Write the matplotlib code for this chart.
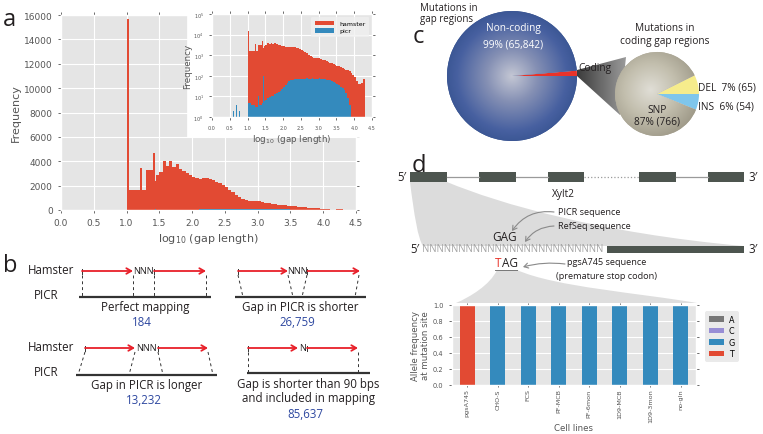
import numpy as np
import matplotlib.pyplot as plt
from matplotlib.colors import LinearSegmentedColormap
from matplotlib.patches import Rectangle, Polygon, PathPatch
from matplotlib.path import Path

plt.style.use('ggplot')

W, H = 763, 435
ANNOT = ['Open Sans', 'DejaVu Sans']
RED, BLUE = '#E24A33', '#348ABD'

# ---- panel a: gap length histograms (log10 gap length) ----
bin_w = 0.05
hamster_start = 1.0
hamster_counts = [1650, 1620, 1660, 1620, 1650, 1680, 3250, 3280, 2350, 2850,
                  3150, 4000, 3600, 4000, 3550, 3780, 3350, 3170, 3000, 2850,
                  2700, 2600, 2550, 2600, 2620, 2540, 2430, 2330, 2200, 2050,
                  1850, 1650, 1440, 1250, 1060, 900, 780, 740, 720, 750,
                  700, 650, 610, 580, 520, 480, 440, 400, 370, 340,
                  310, 290, 260, 240, 220, 200, 185, 165, 140, 110,
                  90, 55, 40, 40, 45, 70]
hamster_spike_x = [1.00, 1.20, 1.41]
hamster_spike_counts = [15700, 3450, 4690]

picr_start = 1.0
picr_counts = [5, 5, 4, 4, 3, 3, 4, 4, 5, 6,
               7, 8, 9, 10, 11, 13, 15, 17, 19, 24,
               30, 37, 46, 55, 62, 66, 70, 71, 69, 72,
               70, 73, 71, 74, 70, 72, 75, 71, 73, 70,
               74, 72, 70, 68, 66, 63, 60, 55, 50, 45,
               40, 35, 30, 25, 20, 14, 8, 4, 1]
picr_extra_x = [0.0, 0.60, 0.67, 0.76, 0.83, 1.00, 1.20, 1.30, 1.43]
picr_extra_counts = [180, 2, 4, 2, 4, 37, 13, 11, 100]

# ---- panel b: mapping categories ----
mapping_labels = ['Perfect mapping', 'Gap in PICR is shorter',
                  'Gap in PICR is longer',
                  'Gap is shorter than 90 bps\nand included in mapping']
mapping_counts = ['184', '26,759', '13,232', '85,637']

# ---- panel c: mutations ----
gap_labels = ['Coding', 'Non-coding']
coding_labels = ['INS', 'DEL', 'SNP']
coding_counts = [54, 65, 766]
noncoding_count = 65842

# ---- panel d: allele frequencies ----
cell_lines = ['pgsA745', 'CHO-S', 'FCS', 'PF-MCB', 'PF-6mon', '1D9-MCB', '1D9-3mon', 'no-gln']
freq_A = [0, 0, 0, 0, 0, 0, 0, 0]
freq_C = [0, 0, 0, 0, 0, 0, 0, 0]
freq_G = [0, 1, 1, 1, 1, 1, 1, 1]
freq_T = [1, 0, 0, 0, 0, 0, 0, 0]


def rect(l, t, w, h):
    return [l / W, 1 - (t + h) / H, w / W, h / H]


def style_ax(a, size):
    a.tick_params(labelsize=size, colors='#555555', length=2.5, width=0.6,
                  top=True, right=True, labeltop=False, labelright=False)


fig = plt.figure(figsize=(W / 100, H / 100), dpi=100)

# ================= panel a =================
ham_x = hamster_start + bin_w * np.arange(len(hamster_counts))
picr_x = picr_start + bin_w * np.arange(len(picr_counts))

ax = fig.add_axes(rect(61, 16, 295, 195))
ax.bar(ham_x, hamster_counts, bin_w, align='edge', color=RED, lw=0)
ax.bar(hamster_spike_x, hamster_spike_counts, 0.03, align='edge', color=RED, lw=0)
ax.bar(picr_x, picr_counts, bin_w, align='edge', color=BLUE, lw=0)
ax.bar(picr_extra_x, picr_extra_counts, 0.02, align='edge', color=BLUE, lw=0)
ax.set_xlim(0, 4.5)
ax.set_ylim(0, 16000)
ax.set_xticks(np.arange(0, 4.51, 0.5))
ax.set_yticks(np.arange(0, 16001, 2000))
style_ax(ax, 6.5)
ax.set_ylabel('Frequency', fontsize=8, color='#555555', labelpad=2)
ax.set_xlabel('log$_{10}$ (gap length)', fontsize=8, color='#555555', labelpad=3)

# white area behind the inset
fig.patches.append(Rectangle((187 / W, 1 - 138 / H), (362 - 187) / W, 138 / H,
                             transform=fig.transFigure, color='white', zorder=1))

axi = fig.add_axes(rect(212, 15, 160, 103), zorder=2)
axi.set_yscale('log')
axi.bar(ham_x, hamster_counts, bin_w, align='edge', color=RED, lw=0, label='hamster')
axi.bar(hamster_spike_x, hamster_spike_counts, 0.03, align='edge', color=RED, lw=0)
axi.bar(picr_x, picr_counts, bin_w, align='edge', color=BLUE, lw=0, label='picr')
axi.bar(picr_extra_x, picr_extra_counts, 0.02, align='edge', color=BLUE, lw=0)
axi.set_xlim(0, 4.5)
axi.set_ylim(1, 1e5)
axi.set_xticks(np.arange(0, 4.51, 0.5))
axi.minorticks_off()
style_ax(axi, 3.5)
axi.set_ylabel('Frequency', fontsize=6.3, color='#555555', labelpad=1)
axi.set_xlabel('log$_{10}$ (gap length)', fontsize=6.3, color='#555555', labelpad=1)
leg = axi.legend(loc='upper right', fontsize=4.5, frameon=True, handlelength=3,
                 borderpad=0.6, labelspacing=0.3)
leg.get_frame().set_facecolor('#f0f0f0')
leg.get_frame().set_edgecolor('none')

# ================= overlays in pixel coordinates =================
back = fig.add_axes([0, 0, 1, 1], zorder=0.5)
front = fig.add_axes([0, 0, 1, 1], zorder=5)
for o in (back, front):
    o.set_xlim(0, W)
    o.set_ylim(H, 0)
    o.axis('off')


def txt(x, y, s, size=8, **kw):
    kw.setdefault('ha', 'center')
    kw.setdefault('va', 'center')
    kw.setdefault('family', ANNOT)
    kw.setdefault('color', '#231f20')
    front.text(x, y, s, fontsize=size, **kw)


# panel letters
txt(9, 20, 'a', 17)
txt(10, 266, 'b', 17)
txt(418, 37, 'c', 17)
txt(419, 166, 'd', 17)

# ================= panel b =================
ARROW_RED = '#e8202a'
DARK = '#333333'


def red_arrow(x0, x1, y):
    front.annotate('', xy=(x1, y), xytext=(x0, y),
                   arrowprops=dict(arrowstyle='->,head_length=0.35,head_width=0.2',
                                   color=ARROW_RED, lw=1.3, shrinkA=0, shrinkB=0))
    front.plot([x0, x0], [y - 2, y + 3], color=DARK, lw=0.7)


def mapping_diagram(arrows, gap_text, top_x, bottom_x, line, y_h, y_p, k, lab_y):
    red_arrow(arrows[0][0], arrows[0][1], y_h)
    red_arrow(arrows[1][0], arrows[1][1], y_h)
    txt((arrows[0][1] + arrows[1][0]) / 2, y_h - 0.5, gap_text, 6.6)
    for xt, xb in zip(top_x, bottom_x):
        front.plot([xt, xb], [y_h + 4, y_p], color=DARK, lw=0.7, ls=(0, (3, 3)))
    front.plot(line, [y_p, y_p], color=DARK, lw=1.6, solid_capstyle='butt')
    n_lines = mapping_labels[k].count('\n') + 1
    txt(np.mean(line), lab_y, mapping_labels[k], 8.3, va='top', linespacing=1.15)
    txt(np.mean(line) - 3, lab_y + 14.5 * n_lines + 1, mapping_counts[k], 8.3,
        va='top', color='#2e48a0')


for y_h, y_p in [(271, 296), (348, 373)]:
    txt(28, y_h, 'Hamster', 8.3, ha='left')
    txt(34, y_p, 'PICR', 8.3, ha='left')

mapping_diagram([(82, 133), (154, 206)], 'NNN', [82, 133, 154, 206], [82, 133, 154, 206],
                [79, 211], 272, 298, 0, 301)
mapping_diagram([(238, 288), (307, 360)], 'NNN', [238, 288, 307, 359], [243, 293, 302, 355],
                [235, 366], 272, 298, 1, 301)
mapping_diagram([(85, 135), (158, 208)], 'NNN', [85, 135, 158, 208], [78, 129, 163, 213],
                [76, 217], 349, 376, 2, 379)
mapping_diagram([(248, 298), (307, 358)], 'N', [248, 358], [248, 358],
                [247, 370], 349, 374, 3, 378)

# ================= panel c =================
coding_total = sum(coding_counts)
gap_counts = [coding_total, noncoding_count]

axc1 = fig.add_axes(rect(447, 12, 130, 130), zorder=1.5)
w1, _ = axc1.pie(gap_counts, colors=['#e8332a', '#3a5590'], startangle=0,
                 wedgeprops=dict(linewidth=0))
axc2 = fig.add_axes(rect(615, 53, 84, 84), zorder=1.5)
w2, _ = axc2.pie(coding_counts, colors=['#7fc6ec', '#f6ec8c', '#b2ad9d'],
                 startangle=-360 * coding_counts[0] / coding_total,
                 wedgeprops=dict(linewidth=0))


def radial_fill(a, patch, stops, center=(0, 0)):
    yy, xx = np.mgrid[-1:1:300j, -1:1:300j]
    r = np.hypot(xx - center[0], yy - center[1])
    r = np.clip(r / r.max() * 1.25, 0, 1)
    cmap = LinearSegmentedColormap.from_list('g', stops)
    im = a.imshow(r, extent=[-1, 1, -1, 1], origin='lower', cmap=cmap,
                  vmin=0, vmax=1, zorder=patch.get_zorder() + 0.1, interpolation='bilinear')
    im.set_clip_path(patch)


radial_fill(axc1, w1[1], [(0, '#c4c7d4'), (0.35, '#8590b4'), (0.75, '#4760a0'), (1, '#33508c')])
radial_fill(axc2, w2[2], [(0, '#e0ded6'), (0.5, '#c2bead'), (1, '#9a9584')], center=(-0.15, 0.1))
for a in (axc1, axc2):
    a.set_xlim(-1, 1)
    a.set_ylim(-1, 1)
    a.set_aspect('equal')
    a.axis('off')

# dark funnel between the two pies
funnel = Polygon([(577, 71), (626, 58), (620, 116), (577, 77)], closed=True,
                 facecolor='none', edgecolor='none')
back.add_patch(funnel)
g = back.imshow(np.linspace(0, 1, 100).reshape(1, -1), extent=[577, 626, 120, 55],
                cmap=LinearSegmentedColormap.from_list('f', ['#3c3c3c', '#9a9a9a']),
                aspect='auto', zorder=1)
g.set_clip_path(funnel)
back.set_xlim(0, W)
back.set_ylim(H, 0)

pct = lambda v, t: '%d%%' % round(100 * v / t)
gap_total = sum(gap_counts)
txt(420, 14, 'Mutations in\ngap regions', 7, ha='left', va='center', linespacing=1.05)
txt(513, 29, gap_labels[1], 7.3, color='white')
txt(513, 45, '%s (%s)' % (pct(noncoding_count, gap_total), format(noncoding_count, ',')), 7.3,
    color='white')
txt(578, 68, gap_labels[0], 7.3, ha='left')
txt(665, 35, 'Mutations in\ncoding gap regions', 7.3, linespacing=1.25)
txt(698, 88, '%s  %s (%d)' % (coding_labels[1], pct(coding_counts[1], coding_total), coding_counts[1]),
    7.3, ha='left')
txt(698, 107, '%s  %s (%d)' % (coding_labels[0], pct(coding_counts[0], coding_total), coding_counts[0]),
    7.3, ha='left')
txt(657, 116, '%s\n%s (%d)' % (coding_labels[2], pct(coding_counts[2], coding_total), coding_counts[2]),
    7.3, linespacing=1.0)

# ================= panel d: gene model =================
EXON = '#4d554f'
for x0, x1 in [(410, 447), (479, 516), (548, 584), (639, 676), (708, 744)]:
    front.add_patch(Rectangle((x0, 173), x1 - x0, 10, color=EXON, lw=0))
for x0, x1, ls in [(447, 479, '-'), (516, 548, '-'), (584, 639, ':'), (676, 708, '-')]:
    front.plot([x0, x1], [178, 178], color='#9a9a9a', lw=0.9, ls=ls)
txt(406, 178, '5\u2032', 8.3, ha='right')
txt(748, 178, '3\u2032', 8.3, ha='left')
txt(563, 195, 'Xylt2', 7.3)

P = Path
v1 = [(410, 183), (414, 215), (418, 240), (423, 247), (743, 247),
      (600, 234), (500, 205), (447, 183), (410, 183)]
c1 = [P.MOVETO, P.CURVE4, P.CURVE4, P.CURVE4, P.LINETO, P.CURVE4, P.CURVE4, P.CURVE4, P.CLOSEPOLY]
back.add_patch(PathPatch(Path(v1, c1), facecolor='#dcdcdc', edgecolor='none'))
v2 = [(497, 271), (490, 286), (470, 298), (456, 304), (697, 304),
      (640, 294), (555, 288), (517, 271), (497, 271)]
back.add_patch(PathPatch(Path(v2, c1), facecolor='#dedede', edgecolor='none'))

txt(419, 250, '5\u2032', 8.3, ha='right')
txt(422, 250, 'N' * 25, 6.95, ha='left', color='#a3a3a3')
front.add_patch(Rectangle((607, 246.5), 137, 7, color=EXON, lw=0))
txt(748, 250, '3\u2032', 8.3, ha='left')

txt(505, 238, 'GAG', 8.5)
txt(495, 264, 'T', 8.5, ha='left', color='#e8332a')
txt(502, 264, 'AG', 8.5, ha='left')
front.plot([495, 517], [270.5, 270.5], color='#777777', lw=0.7)

txt(558, 213, 'PICR sequence', 6.6, ha='left')
txt(558, 227, 'RefSeq sequence', 6.6, ha='left')
txt(607, 263, 'pgsA745 sequence', 6.6)
txt(607, 277, '(premature stop codon)', 6.6)
for (x0, y0), (x1, y1), rad in [((554, 213), (512, 232), 0.3), ((554, 227), (525, 243), 0.25),
                                ((565, 265), (523, 268), 0.1)]:
    front.annotate('', xy=(x1, y1), xytext=(x0, y0),
                   arrowprops=dict(arrowstyle='->,head_length=0.3,head_width=0.18', color='#8a8a8a',
                                   lw=0.8, shrinkA=0, shrinkB=0,
                                   connectionstyle='arc3,rad=%s' % rad))

# ================= panel d: allele frequency bars =================
axd = fig.add_axes(rect(452, 306, 244, 80), zorder=1.5)
xpos = np.arange(len(cell_lines))
bottom = np.zeros(len(cell_lines))
for lab, vals, col in [('A', freq_A, '#777777'), ('C', freq_C, '#988ED5'),
                       ('G', freq_G, BLUE), ('T', freq_T, RED)]:
    axd.bar(xpos, vals, 0.5, bottom=bottom, color=col, lw=0, label=lab)
    bottom += np.array(vals)
axd.set_xlim(-0.5, len(cell_lines) - 0.5)
axd.set_ylim(0, 1)
axd.set_xticks(xpos)
axd.set_xticklabels(cell_lines, rotation=90)
axd.set_yticks(np.arange(0, 1.01, 0.2))
style_ax(axd, 4.8)
axd.tick_params(axis='x', labelsize=4.6, pad=1, length=1.5)
axd.set_ylabel('Allele frequency\nat mutation site', fontsize=6.2, color='#555555', labelpad=2)
axd.set_xlabel('Cell lines', fontsize=6.2, color='#555555', labelpad=0.5)
lg = axd.legend(loc='upper left', bbox_to_anchor=(1.02, 0.97), fontsize=5.8, frameon=True,
                handlelength=1.9, labelspacing=0.3, borderpad=0.45, handletextpad=0.6)
lg.get_frame().set_facecolor('#e5e5e5')
lg.get_frame().set_edgecolor('none')

fig.savefig('out.png', dpi=100)
